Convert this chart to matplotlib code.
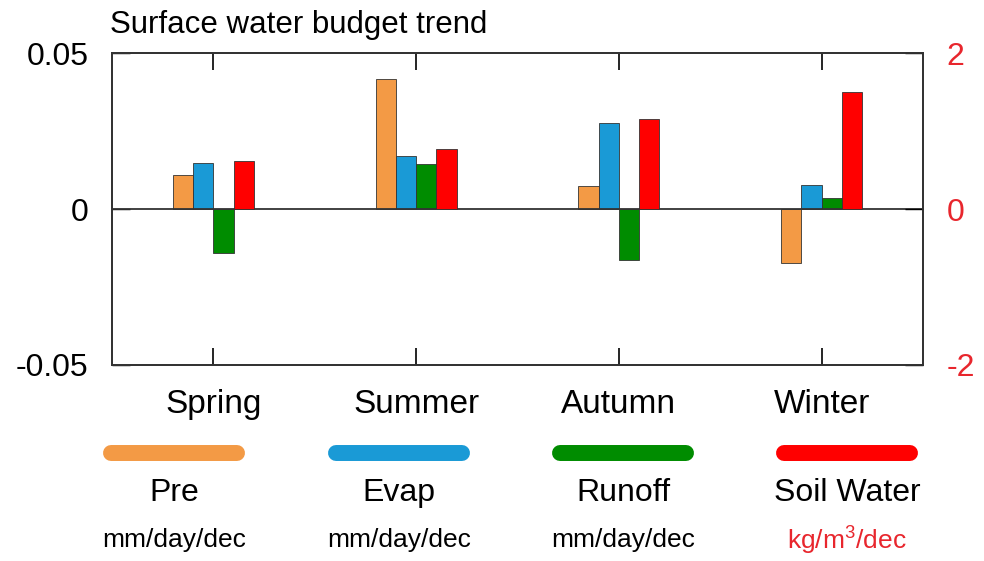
import numpy as np
import matplotlib.pyplot as plt
from matplotlib.lines import Line2D

seasons = ["Spring", "Summer", "Autumn", "Winter"]
pre = [0.0109, 0.0416, 0.0075, -0.0172]
evap = [0.0148, 0.0171, 0.0275, 0.0077]
runoff = [-0.0140, 0.0144, -0.0163, 0.0035]
soil_water = [0.62, 0.765, 1.15, 1.50]   # right axis, kg/m3/dec

names = ["Pre", "Evap", "Runoff", "Soil Water"]
units = ["mm/day/dec", "mm/day/dec", "mm/day/dec", r"kg/m$^3$/dec"]
colors = ["#F39A45", "#1A9AD6", "#008C00", "#FF0000"]
red_text = "#E8262D"

plt.rcParams['font.family'] = ['Liberation Sans', 'DejaVu Sans']
plt.rcParams['mathtext.fontset'] = 'custom'
plt.rcParams['mathtext.rm'] = 'Liberation Sans'

fig = plt.figure(figsize=(9.84, 5.61), dpi=100)
ax = fig.add_axes([0.1138, 0.3494, 0.8242, 0.5561])
ax2 = ax.twinx()

x = np.arange(1, len(seasons) + 1)
w = 0.1
for i, vals in enumerate([pre, evap, runoff]):
    ax.bar(x + (i - 1.5) * w, vals, w, color=colors[i], edgecolor="#333333", linewidth=0.6, zorder=3)
ax2.bar(x + 1.5 * w, soil_water, w, color=colors[3], edgecolor="#333333", linewidth=0.6, zorder=3)

ax.axhline(0, color="#333333", lw=1.3, zorder=4)
ax.set_xlim(0.5, 4.5)
ax.set_ylim(-0.05, 0.05)
ax.set_yticks([-0.05, 0, 0.05])
ax.set_yticklabels(["-0.05", "0", "0.05"])
ax2.set_ylim(-2, 2)
ax2.set_yticks([-2, 0, 2])
ax2.set_yticklabels(["-2", "0", "2"], color=red_text)

ax.set_xticks(x)
ax.set_xticklabels(seasons)
ax.tick_params(axis='x', direction='in', top=True, length=12, width=1.2, pad=17, labelsize=24)
ax.tick_params(axis='y', direction='in', length=13, width=1.0, pad=17, labelsize=23)
ax2.tick_params(axis='y', direction='in', length=13, width=1.0, pad=17, labelsize=23)
for a in (ax, ax2):
    for s in a.spines.values():
        s.set_linewidth(1.3)
        s.set_color("#333333")

fig.text(0.112, 1 - 25 / 561, "Surface water budget trend", fontsize=22.5, ha='left', va='center')

# legend row drawn under the axes
centers = [174, 399, 623, 847]
for c, col, name, unit in zip(centers, colors, names, units):
    xc = c / 984
    fig.add_artist(Line2D([xc - 63 / 984, xc + 63 / 984], [1 - 453 / 561] * 2,
                          color=col, lw=11.5, solid_capstyle='round', transform=fig.transFigure))
    fig.text(xc, 1 - 493 / 561, name, fontsize=23, ha='center', va='center')
    fig.text(xc, 1 - 540 / 561, unit, fontsize=19, ha='center', va='center',
             color=red_text if name == "Soil Water" else "black")

fig.savefig("out.png", dpi=100)
